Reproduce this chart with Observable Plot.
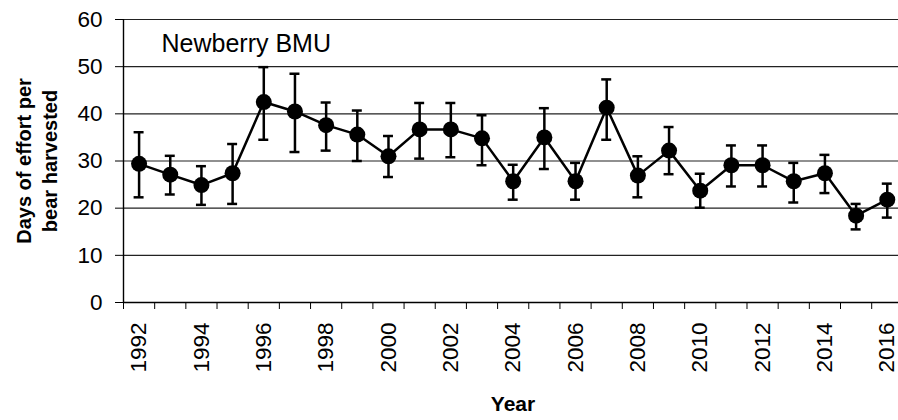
<!DOCTYPE html>
<html>
<head>
<meta charset="utf-8">
<script src="https://cdn.jsdelivr.net/npm/d3@7"></script>
<script src="https://cdn.jsdelivr.net/npm/@observablehq/plot@0.6"></script>
<style>
  html, body { margin: 0; padding: 0; background: #fff; }
</style>
</head>
<body>
<div id="chart"></div>
<script>
const years = [1992,1993,1994,1995,1996,1997,1998,1999,2000,2001,2002,2003,2004,2005,2006,2007,2008,2009,2010,2011,2012,2013,2014,2015,2016];
const effort = [29.4,27.1,24.9,27.4,42.5,40.5,37.6,35.6,31.0,36.7,36.7,34.8,25.7,35.0,25.7,41.3,26.9,32.2,23.7,29.1,29.1,25.7,27.4,18.4,21.8];
const lower  = [22.3,22.9,20.7,20.9,34.5,31.9,32.2,30.0,26.6,30.5,30.8,29.1,21.8,28.3,21.8,34.5,22.3,27.2,20.1,24.6,24.6,21.2,23.2,15.5,18.0];
const upper  = [36.1,31.1,28.9,33.6,49.9,48.5,42.4,40.7,35.3,42.3,42.3,39.7,29.2,41.2,29.6,47.3,31.0,37.2,27.3,33.3,33.3,29.6,31.3,20.9,25.2];
const yTicks = [0,10,20,30,40,50,60];
const xLabels = [1992,1994,1996,1998,2000,2002,2004,2006,2008,2010,2012,2014,2016];
const panelLabel = "Newberry BMU";
const yTitle = "Days of effort per\nbear harvested";
const xTitle = "Year";

const data = years.map((y, i) => ({year: y, value: effort[i], lo: lower[i], hi: upper[i]}));
const boundaries = years.map(y => y - 0.5);
const capHalf = 0.16;

const font = "Liberation Sans, Arial, Helvetica, sans-serif";

const chart = Plot.plot({
  width: 898,
  height: 420,
  marginLeft: 123,
  marginRight: 0,
  marginTop: 19,
  marginBottom: 118,
  style: {fontFamily: font, fontSize: "22px", color: "#000", background: "#fff", overflow: "visible"},
  x: {type: "linear", domain: [1991.5, 2016.36]},
  y: {domain: [0, 60]},
  marks: [
    Plot.ruleY(yTicks.filter(d => d > 0), {stroke: "#222", strokeWidth: 1.2}),
    Plot.ruleY([0], {stroke: "#000", strokeWidth: 1.4}),
    Plot.ruleX([1991.5], {stroke: "#000", strokeWidth: 1.4}),
    Plot.axisY({ticks: yTicks, tickSize: 8, tickPadding: 13, label: null, fontSize: 22.5, stroke: "#000"}),
    Plot.axisX({ticks: boundaries, tickSize: 7, tickFormat: () => "", label: null, stroke: "#000"}),
    Plot.axisX({ticks: xLabels, tickSize: 0, tickPadding: 20, tickRotate: -90, tickFormat: d => String(d), label: null, fontSize: 22.5}),
    Plot.ruleX(data, {x: "year", y1: "lo", y2: "hi", stroke: "#000", strokeWidth: 2.5}),
    Plot.ruleY(data, {y: "lo", x1: d => d.year - capHalf, x2: d => d.year + capHalf, stroke: "#000", strokeWidth: 2.5}),
    Plot.ruleY(data, {y: "hi", x1: d => d.year - capHalf, x2: d => d.year + capHalf, stroke: "#000", strokeWidth: 2.5}),
    Plot.line(data, {x: "year", y: "value", stroke: "#000", strokeWidth: 2.5}),
    Plot.dot(data, {x: "year", y: "value", r: 8, fill: "#000", stroke: "none"}),
    Plot.text([panelLabel], {frameAnchor: "top-left", dx: 38, dy: 24, textAnchor: "start", lineAnchor: "middle", fontSize: 25, fill: "#000"}),
    Plot.text([yTitle], {frameAnchor: "left", dx: -88, rotate: -90, textAnchor: "middle", lineAnchor: "middle", lineHeight: 1.3, fontSize: 20, fontWeight: "bold", fill: "#000"}),
    Plot.text([xTitle], {frameAnchor: "bottom", dx: 2, dy: 102, textAnchor: "middle", lineAnchor: "middle", fontSize: 21, fontWeight: "bold", fill: "#000"})
  ]
});
document.getElementById("chart").appendChild(chart);
</script>
</body>
</html>
